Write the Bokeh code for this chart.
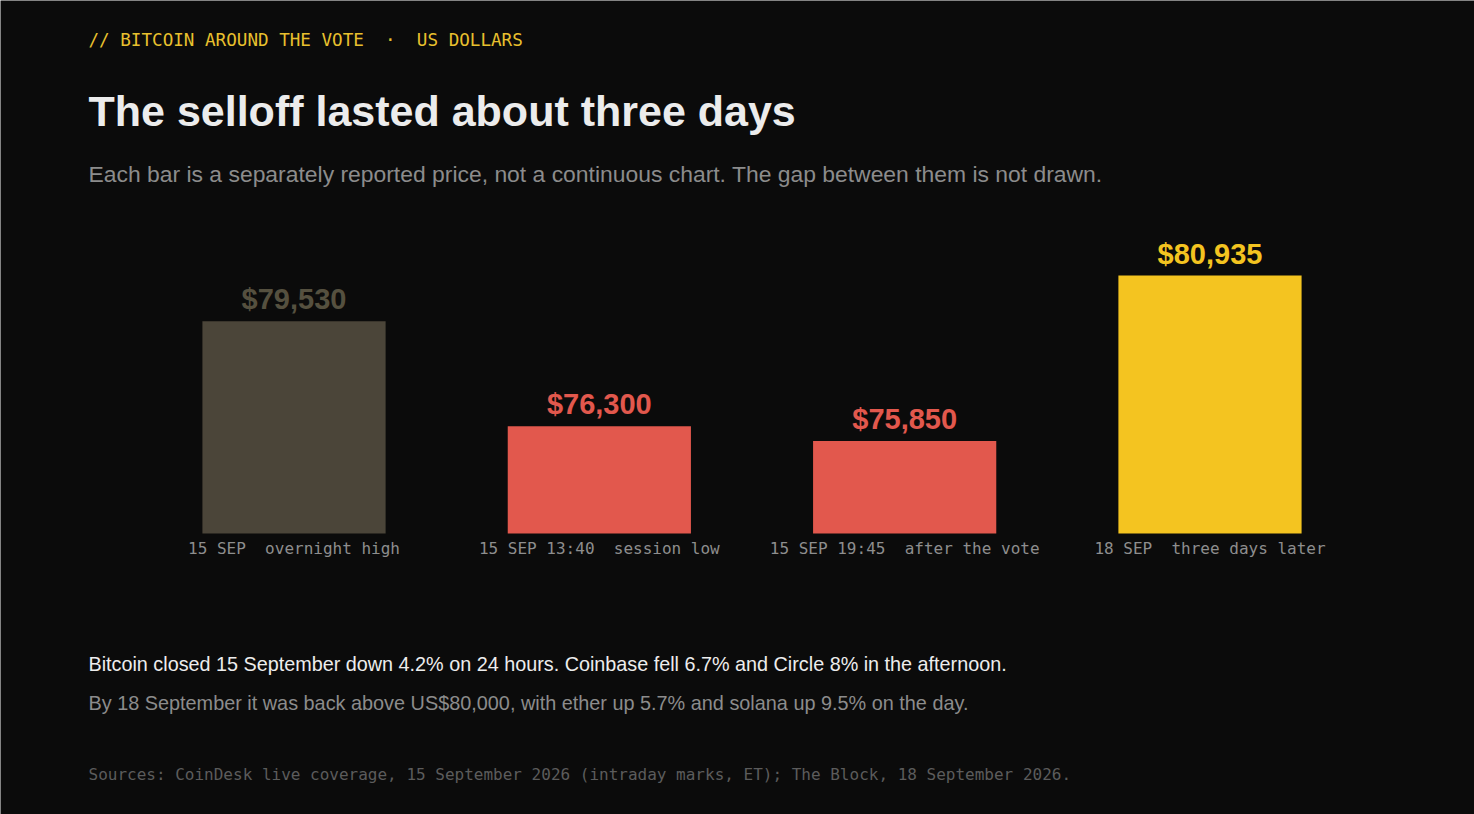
from bokeh.plotting import figure
from bokeh.models import Range1d, Label, ColumnDataSource
from bokeh.core.properties import value
from bokeh.embed import file_html
from bokeh.resources import INLINE

NB2 = "\u00a0\u00a0"

# ---- data ----
categories = ["15 SEP" + NB2 + "overnight high", "15 SEP 13:40" + NB2 + "session low",
              "15 SEP 19:45" + NB2 + "after the vote", "18 SEP" + NB2 + "three days later"]
prices = [79530, 76300, 75850, 80935]
price_labels = ["$79,530", "$76,300", "$75,850", "$80,935"]
bar_colors = ["#4b4539", "#e2584d", "#e2584d", "#f4c420"]
label_colors = ["#55503f", "#e2584d", "#e2584d", "#f4c420"]
BASELINE = 73000

kicker = "// BITCOIN AROUND THE VOTE" + NB2 + "\u00b7" + NB2 + "US DOLLARS"
title = "The selloff lasted about three days"
subtitle = ("Each bar is a separately reported price, not a continuous chart. "
            "The gap between them is not drawn.")
note1 = ("Bitcoin closed 15 September down 4.2% on 24 hours. "
         "Coinbase fell 6.7% and Circle 8% in the afternoon.")
note2 = ("By 18 September it was back above US$80,000, with ether up 5.7% "
         "and solana up 9.5% on the day.")
sources = ("Sources: CoinDesk live coverage, 15 September 2026 (intraday marks, ET); "
           "The Block, 18 September 2026.")

W, H = 1474, 814
BG = "#0b0b0b"
SANS = "Liberation Sans"
MONO = "DejaVu Sans Mono"

px_per_k = 32.5
y0 = BASELINE - 281 / px_per_k * 1000
y1 = BASELINE + 533 / px_per_k * 1000

p = figure(width=W, height=H, output_backend="svg", toolbar_location=None,
           x_range=Range1d(-0.9613, 3.8663), y_range=Range1d(y0, y1),
           x_axis_location=None, y_axis_location=None,
           min_border=0, background_fill_color=BG, border_fill_color=BG,
           outline_line_color=None)
p.grid.visible = False

idx = list(range(len(prices)))
src = ColumnDataSource(dict(x=idx, top=prices, cat=categories, lab=price_labels,
                            color=bar_colors, lcolor=label_colors,
                            base=[BASELINE] * len(prices)))

p.vbar(x="x", top="top", bottom="base", width=0.6, fill_color="color",
       line_color=None, source=src)
p.text(x="x", y="top", text="lab", text_color="lcolor", text_align="center",
       text_baseline="alphabetic", y_offset=-22, text_font=value(SANS),
       text_font_style="bold", text_font_size="29px", source=src)
p.text(x="x", y="base", text="cat", text_color="#8e8e8e", text_align="center",
       text_baseline="alphabetic", y_offset=15, text_font=value(MONO),
       text_font_size="16px", source=src)

def add_label(txt, py, font, size, color, style="normal"):
    p.add_layout(Label(x=88, y=H - py + 0.39 * size, x_units="screen", y_units="screen",
                       text=txt, text_font=font, text_font_size=f"{size}px",
                       text_color=color, text_font_style=style,
                       text_baseline="alphabetic"))

add_label(kicker, 46, MONO, 17.6, "#e8c02e")
add_label(title, 127, SANS, 43, "#ececec", "bold")
add_label(subtitle, 182, SANS, 22.9, "#8c8c8c")
add_label(note1, 671, SANS, 19.8, "#ededed")
add_label(note2, 710, SANS, 19.85, "#8c8c8c")
add_label(sources, 780, MONO, 16, "#5c5c5c")

open("out.html", "w").write(file_html(p, INLINE))
